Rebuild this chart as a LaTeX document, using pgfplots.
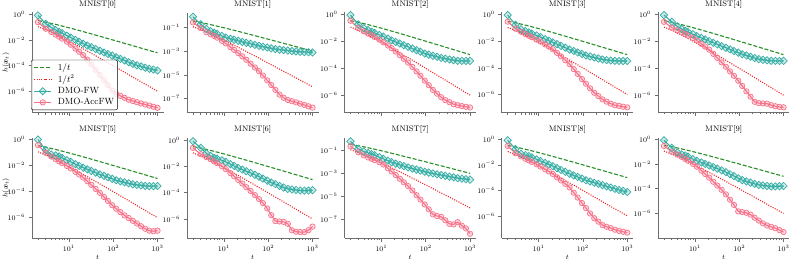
\documentclass[border=0pt]{standalone}
\usepackage{fontspec}
\usepackage{amsmath}
\usepackage{pgfplots}
\usepackage{pgfplotstable}
\pgfplotsset{compat=1.18}
\definecolor{cteal}{HTML}{36ADA4}
\definecolor{cpink}{HTML}{F77189}
\definecolor{cgreen}{HTML}{2A8F2A}
\definecolor{cred}{HTML}{F02020}
\definecolor{cspine}{HTML}{6E6E6E}

\pgfplotstableread{
t inv inv2
2 0.3333 0.1111
3 0.25 0.0625
5 0.1667 0.02778
10 0.0909 0.008264
20 0.0476 0.002268
50 0.0196 0.000384
100 0.0099 9.80e-5
200 0.004975 2.475e-5
500 0.001996 3.984e-6
1000 0.000999 9.98e-7
}\tR

\pgfplotstableread{
t fw acc
2 8.32e-1 2.51e-1
3 1.86e-1 7.59e-2
4 9.55e-2 4.27e-2
5 6.03e-2 2.69e-2
6 4.37e-2 1.82e-2
7 3.39e-2 1.29e-2
9 2.19e-2 7.41e-3
11 1.55e-2 4.27e-3
14 1.02e-2 2.14e-3
17 7.41e-3 1.23e-3
21 5.13e-3 6.61e-4
26 3.72e-3 2.95e-4
32 2.75e-3 1.23e-4
40 2.00e-3 4.79e-5
50 1.45e-3 1.86e-5
62 1.07e-3 7.41e-6
76 8.13e-4 3.02e-6
95 6.03e-4 1.15e-6
117 4.57e-4 6.31e-7
145 3.39e-4 4.37e-7
180 2.51e-4 3.09e-7
223 1.86e-4 2.19e-7
277 1.38e-4 1.74e-7
343 1.07e-4 1.41e-7
425 8.71e-5 1.12e-7
527 6.92e-5 9.33e-8
653 5.62e-5 7.59e-8
809 4.90e-5 6.17e-8
1000 4.17e-5 5.13e-8
}\tA

\pgfplotstableread{
t fw acc
2 7.59e-1 2.57e-1
3 1.78e-1 8.51e-2
4 7.24e-2 3.89e-2
5 4.79e-2 2.57e-2
6 3.55e-2 1.86e-2
7 2.75e-2 1.35e-2
9 1.86e-2 7.24e-3
11 1.35e-2 4.37e-3
14 1.07e-2 2.19e-3
17 8.91e-3 1.26e-3
21 7.24e-3 6.76e-4
26 5.89e-3 3.63e-4
32 4.90e-3 1.86e-4
40 4.07e-3 8.71e-5
50 3.31e-3 4.17e-5
62 2.75e-3 2.04e-5
76 2.34e-3 8.71e-6
95 2.00e-3 3.47e-6
117 1.70e-3 1.41e-6
145 1.45e-3 5.50e-7
180 1.32e-3 2.19e-7
223 1.20e-3 1.20e-7
277 1.10e-3 7.76e-8
343 1.00e-3 6.17e-8
425 9.33e-4 4.90e-8
527 8.71e-4 3.80e-8
653 8.32e-4 2.95e-8
809 7.94e-4 2.29e-8
1000 7.59e-4 1.78e-8
}\tB

\pgfplotstableread{
t fw acc
2 8.51e-1 3.24e-1
3 1.74e-1 9.33e-2
4 9.12e-2 5.25e-2
5 6.61e-2 3.63e-2
6 5.01e-2 2.75e-2
7 4.07e-2 2.04e-2
9 2.88e-2 1.29e-2
11 2.19e-2 8.32e-3
14 1.55e-2 4.79e-3
17 1.15e-2 3.02e-3
21 8.71e-3 1.70e-3
26 6.61e-3 9.12e-4
32 5.01e-3 4.90e-4
40 3.80e-3 2.57e-4
50 2.82e-3 1.23e-4
62 2.14e-3 5.75e-5
76 1.66e-3 2.75e-5
95 1.23e-3 1.20e-5
117 1.00e-3 5.50e-6
145 8.32e-4 2.45e-6
180 6.92e-4 1.29e-6
223 5.75e-4 7.08e-7
277 5.01e-4 4.27e-7
343 4.37e-4 3.02e-7
425 3.89e-4 2.14e-7
527 3.47e-4 1.82e-7
653 3.47e-4 1.55e-7
809 3.39e-4 1.38e-7
1000 3.47e-4 1.23e-7
}\tC

\pgfplotstableread{
t fw acc
2 9.55e-1 3.02e-1
3 1.74e-1 9.12e-2
4 7.94e-2 5.25e-2
5 5.89e-2 3.55e-2
6 4.68e-2 2.63e-2
7 3.80e-2 2.04e-2
9 2.75e-2 1.35e-2
11 2.09e-2 9.55e-3
14 1.48e-2 5.89e-3
17 1.12e-2 3.98e-3
21 8.32e-3 2.51e-3
26 6.17e-3 1.35e-3
32 4.57e-3 7.41e-4
40 3.31e-3 3.80e-4
50 2.40e-3 1.91e-4
62 1.86e-3 8.13e-5
76 1.45e-3 3.55e-5
95 1.12e-3 1.45e-5
117 8.71e-4 6.46e-6
145 7.24e-4 2.88e-6
180 6.03e-4 1.35e-6
223 5.13e-4 7.59e-7
277 4.27e-4 4.27e-7
343 3.89e-4 2.88e-7
425 3.63e-4 2.04e-7
527 3.39e-4 1.55e-7
653 3.31e-4 1.38e-7
809 3.31e-4 1.20e-7
1000 3.31e-4 1.07e-7
}\tD

\pgfplotstableread{
t fw acc
2 8.51e-1 2.69e-1
3 2.69e-1 1.02e-1
4 1.23e-1 6.46e-2
5 7.94e-2 4.47e-2
6 5.89e-2 3.31e-2
7 4.68e-2 2.57e-2
9 3.24e-2 1.70e-2
11 2.40e-2 1.12e-2
14 1.74e-2 6.31e-3
17 1.35e-2 3.98e-3
21 1.00e-2 2.34e-3
26 7.59e-3 1.15e-3
32 5.75e-3 5.75e-4
40 4.27e-3 2.69e-4
50 3.24e-3 1.26e-4
62 2.45e-3 5.75e-5
76 1.86e-3 2.69e-5
95 1.41e-3 1.17e-5
117 1.07e-3 4.79e-6
145 8.71e-4 1.91e-6
180 7.00e-4 7.76e-7
223 5.62e-4 3.24e-7
277 4.57e-4 2.57e-7
343 4.17e-4 2.45e-7
425 3.80e-4 2.34e-7
527 3.47e-4 1.82e-7
653 3.47e-4 1.51e-7
809 3.39e-4 1.35e-7
1000 3.47e-4 1.26e-7
}\tE

\pgfplotstableread{
t fw acc
2 9.55e-1 3.63e-1
3 1.48e-1 9.33e-2
4 6.76e-2 4.79e-2
5 5.75e-2 2.95e-2
6 4.90e-2 2.04e-2
7 3.80e-2 1.51e-2
9 2.51e-2 9.12e-3
11 1.86e-2 5.89e-3
14 1.26e-2 3.24e-3
17 9.33e-3 2.00e-3
21 6.76e-3 1.17e-3
26 5.01e-3 6.17e-4
32 3.80e-3 3.24e-4
40 2.82e-3 1.58e-4
50 2.04e-3 7.94e-5
62 1.58e-3 3.80e-5
76 1.23e-3 1.91e-5
95 9.33e-4 8.91e-6
117 7.24e-4 4.79e-6
145 6.03e-4 2.63e-6
180 5.13e-4 1.48e-6
223 4.27e-4 9.33e-7
277 3.55e-4 5.75e-7
343 3.24e-4 3.55e-7
425 2.95e-4 2.19e-7
527 2.69e-4 1.41e-7
653 2.57e-4 1.00e-7
809 2.57e-4 9.12e-8
1000 2.63e-4 1.00e-7
}\tF

\pgfplotstableread{
t fw acc
2 8.32e-1 2.63e-1
3 2.63e-1 8.51e-2
4 1.02e-1 5.13e-2
5 6.31e-2 3.55e-2
6 4.68e-2 2.45e-2
7 3.98e-2 1.78e-2
9 2.95e-2 1.05e-2
11 2.24e-2 6.31e-3
14 1.51e-2 3.16e-3
17 1.10e-2 1.78e-3
21 7.76e-3 9.55e-4
26 5.75e-3 5.01e-4
32 4.37e-3 2.63e-4
40 3.24e-3 1.35e-4
50 2.34e-3 6.61e-5
62 1.66e-3 3.24e-5
76 1.20e-3 1.62e-5
95 8.32e-4 6.31e-6
117 6.03e-4 1.95e-6
145 4.47e-4 6.92e-7
180 3.31e-4 6.46e-7
223 2.51e-4 6.03e-7
277 1.95e-4 4.27e-7
343 1.78e-4 1.38e-7
425 1.62e-4 1.07e-7
527 1.48e-4 1.00e-7
653 1.45e-4 1.00e-7
809 1.48e-4 1.38e-7
1000 1.58e-4 2.63e-7
}\tG

\pgfplotstableread{
t fw acc
2 6.03e-1 2.24e-1
3 1.35e-1 6.76e-2
4 7.76e-2 3.63e-2
5 5.89e-2 2.40e-2
6 4.68e-2 1.82e-2
7 3.80e-2 1.41e-2
9 2.51e-2 9.33e-3
11 1.82e-2 5.89e-3
14 1.26e-2 2.69e-3
17 9.12e-3 1.45e-3
21 6.92e-3 7.08e-4
26 5.37e-3 3.39e-4
32 4.27e-3 1.66e-4
40 3.31e-3 7.76e-5
50 2.57e-3 3.24e-5
62 2.09e-3 1.26e-5
76 1.74e-3 5.25e-6
95 1.38e-3 1.95e-6
117 1.15e-3 7.41e-7
145 9.77e-4 2.75e-7
180 8.32e-4 1.95e-7
223 7.08e-4 1.66e-7
277 6.03e-4 8.32e-8
343 5.13e-4 4.07e-8
425 4.47e-4 3.63e-8
527 3.80e-4 5.75e-8
653 3.47e-4 2.88e-8
809 3.09e-4 1.62e-8
1000 2.82e-4 5.62e-9
}\tH

\pgfplotstableread{
t fw acc
2 8.32e-1 3.02e-1
3 1.74e-1 8.13e-2
4 7.24e-2 4.57e-2
5 5.75e-2 3.02e-2
6 4.79e-2 2.24e-2
7 3.80e-2 1.70e-2
9 2.69e-2 1.10e-2
11 2.00e-2 7.41e-3
14 1.41e-2 4.47e-3
17 1.07e-2 3.02e-3
21 7.76e-3 1.91e-3
26 5.50e-3 1.05e-3
32 3.98e-3 6.03e-4
40 2.82e-3 3.24e-4
50 2.00e-3 1.70e-4
62 1.48e-3 6.61e-5
76 1.12e-3 2.75e-5
95 8.32e-4 1.02e-5
117 6.17e-4 4.07e-6
145 5.01e-4 1.55e-6
180 3.98e-4 6.61e-7
223 3.24e-4 3.55e-7
277 2.57e-4 1.91e-7
343 2.04e-4 1.41e-7
425 1.66e-4 1.10e-7
527 1.32e-4 8.32e-8
653 1.07e-4 6.76e-8
809 8.91e-5 5.75e-8
1000 7.41e-5 4.90e-8
}\tI

\pgfplotstableread{
t fw acc
2 8.32e-1 2.88e-1
3 2.00e-1 9.77e-2
4 8.51e-2 5.75e-2
5 6.03e-2 3.80e-2
6 4.90e-2 2.57e-2
7 3.98e-2 1.82e-2
9 2.45e-2 1.02e-2
11 1.82e-2 6.03e-3
14 1.32e-2 2.82e-3
17 1.00e-2 1.55e-3
21 7.59e-3 7.76e-4
26 5.62e-3 3.63e-4
32 4.17e-3 1.78e-4
40 3.02e-3 8.13e-5
50 2.19e-3 3.47e-5
62 1.48e-3 1.29e-5
76 1.05e-3 4.90e-6
95 6.92e-4 1.45e-6
117 4.90e-4 1.29e-6
145 3.89e-4 1.12e-6
180 3.09e-4 7.94e-7
223 2.45e-4 4.47e-7
277 2.00e-4 2.63e-7
343 1.82e-4 1.55e-7
425 1.66e-4 1.05e-7
527 1.51e-4 8.13e-8
653 1.51e-4 6.31e-8
809 1.58e-4 4.47e-8
1000 1.66e-4 3.09e-8
}\tJ

\pgfplotsset{
  every axis/.append style={
    xmode=log, ymode=log, scale only axis, width=131.5pt, height=100pt,
    anchor=south west,
    xmin=1.466, xmax=1365,
    axis x line*=bottom, axis y line*=left,
    axis line style={draw=cspine, line width=0.6pt},
    tick align=outside,
    major tick length=3.5pt, minor tick length=2pt,
    tick style={draw=cspine, line width=0.6pt},
    xtick={10,100,1000},
    minor xtick={2,3,4,5,6,7,8,9,20,30,40,50,60,70,80,90,200,300,400,500,600,700,800,900},
    yminorticks=false,
    ticklabel style={font=\fontsize{7.2}{8}\selectfont},
    title style={font=\fontsize{8}{9}\selectfont, yshift=-5.5pt},
    label style={font=\fontsize{7.2}{8}\selectfont},
    ylabel style={at={(axis description cs:-0.198,0.5)}, anchor=center},
    xlabel style={inner sep=0.5pt, yshift=0pt},
  },
}

\begin{document}
\begin{tikzpicture}
\useasboundingbox (0pt,0pt) rectangle (789pt,260pt);

% ---------- row 1 ----------
\begin{axis}[ytick={1,1e-2,1e-4,1e-6}, xticklabels={}, at={(32pt,147.5pt)},
  ymin=2.2e-8, ymax=1.41, title={MNIST[0]}, ylabel={$h(\boldsymbol{x}_t)$},
  legend cell align=left,
  legend style={at={(0,0.025)}, anchor=south west, xshift=-1pt,
    font=\fontsize{9}{10}\selectfont, rounded corners=2pt,
    fill=white, fill opacity=0.8, text opacity=1, inner sep=2.5pt,
    nodes={inner sep=1pt}, row sep=1.2pt, column sep=5pt}]
\addplot[color=cgreen, line width=1.1pt, dash pattern=on 4pt off 1.8pt, mark=none, forget plot] table[x=t,y=inv]{\tR};
\addplot[color=cred, line width=1.1pt, dash pattern=on 1pt off 1.4pt, mark=none, forget plot] table[x=t,y=inv2]{\tR};
\addplot[color=cteal, line width=1.1pt, mark=square*, mark size=2.6pt, mark options={rotate=45, solid, fill=cteal, fill opacity=0.25, line width=0.7pt}, forget plot] table[x=t,y=fw]{\tA};
\addplot[color=cpink, line width=1.1pt, mark=*, mark size=2.7pt, mark options={solid, fill=cpink, fill opacity=0.25, line width=0.7pt}, forget plot] table[x=t,y=acc]{\tA};
\addlegendimage{draw=cgreen, line width=1.1pt, dash pattern=on 4pt off 1.8pt, mark=none}
\addlegendentry{$1/t$}
\addlegendimage{draw=cred, line width=1.1pt, dash pattern=on 1pt off 1.4pt, mark=none}
\addlegendentry{$1/t^2$}
\addlegendimage{draw=cteal, line width=1.1pt, mark=square*, mark size=2.6pt, mark options={rotate=45, solid, draw=cteal, fill=cteal, fill opacity=0.25, line width=0.7pt}}
\addlegendentry{DMO-FW}
\addlegendimage{draw=cpink, line width=1.1pt, mark=*, mark size=2.7pt, mark options={solid, draw=cpink, fill=cpink, fill opacity=0.25, line width=0.7pt}}
\addlegendentry{DMO-AccFW}
\end{axis}

\begin{axis}[ytick={1e-1,1e-3,1e-5,1e-7}, xticklabels={}, at={(187pt,147.5pt)},
  ymin=6.9e-9, ymax=1.74, title={MNIST[1]}]
\addplot[color=cgreen, line width=1.1pt, dash pattern=on 4pt off 1.8pt, mark=none] table[x=t,y=inv]{\tR};
\addplot[color=cred, line width=1.1pt, dash pattern=on 1pt off 1.4pt, mark=none] table[x=t,y=inv2]{\tR};
\addplot[color=cteal, line width=1.1pt, mark=square*, mark size=2.6pt, mark options={rotate=45, solid, fill=cteal, fill opacity=0.25, line width=0.7pt}] table[x=t,y=fw]{\tB};
\addplot[color=cpink, line width=1.1pt, mark=*, mark size=2.7pt, mark options={solid, fill=cpink, fill opacity=0.25, line width=0.7pt}] table[x=t,y=acc]{\tB};
\end{axis}

\begin{axis}[ytick={1,1e-2,1e-4,1e-6}, xticklabels={}, at={(344.5pt,147.5pt)},
  ymin=5.2e-8, ymax=1.32, title={MNIST[2]}]
\addplot[color=cgreen, line width=1.1pt, dash pattern=on 4pt off 1.8pt, mark=none] table[x=t,y=inv]{\tR};
\addplot[color=cred, line width=1.1pt, dash pattern=on 1pt off 1.4pt, mark=none] table[x=t,y=inv2]{\tR};
\addplot[color=cteal, line width=1.1pt, mark=square*, mark size=2.6pt, mark options={rotate=45, solid, fill=cteal, fill opacity=0.25, line width=0.7pt}] table[x=t,y=fw]{\tC};
\addplot[color=cpink, line width=1.1pt, mark=*, mark size=2.7pt, mark options={solid, fill=cpink, fill opacity=0.25, line width=0.7pt}] table[x=t,y=acc]{\tC};
\end{axis}

\begin{axis}[ytick={1,1e-2,1e-4,1e-6}, xticklabels={}, at={(501.7pt,147.5pt)},
  ymin=4.4e-8, ymax=1.48, title={MNIST[3]}]
\addplot[color=cgreen, line width=1.1pt, dash pattern=on 4pt off 1.8pt, mark=none] table[x=t,y=inv]{\tR};
\addplot[color=cred, line width=1.1pt, dash pattern=on 1pt off 1.4pt, mark=none] table[x=t,y=inv2]{\tR};
\addplot[color=cteal, line width=1.1pt, mark=square*, mark size=2.6pt, mark options={rotate=45, solid, fill=cteal, fill opacity=0.25, line width=0.7pt}] table[x=t,y=fw]{\tD};
\addplot[color=cpink, line width=1.1pt, mark=*, mark size=2.7pt, mark options={solid, fill=cpink, fill opacity=0.25, line width=0.7pt}] table[x=t,y=acc]{\tD};
\end{axis}

\begin{axis}[ytick={1,1e-2,1e-4,1e-6}, xticklabels={}, at={(658pt,147.5pt)},
  ymin=5.2e-8, ymax=1.32, title={MNIST[4]}]
\addplot[color=cgreen, line width=1.1pt, dash pattern=on 4pt off 1.8pt, mark=none] table[x=t,y=inv]{\tR};
\addplot[color=cred, line width=1.1pt, dash pattern=on 1pt off 1.4pt, mark=none] table[x=t,y=inv2]{\tR};
\addplot[color=cteal, line width=1.1pt, mark=square*, mark size=2.6pt, mark options={rotate=45, solid, fill=cteal, fill opacity=0.25, line width=0.7pt}] table[x=t,y=fw]{\tE};
\addplot[color=cpink, line width=1.1pt, mark=*, mark size=2.7pt, mark options={solid, fill=cpink, fill opacity=0.25, line width=0.7pt}] table[x=t,y=acc]{\tE};
\end{axis}

% ---------- row 2 ----------
\begin{axis}[ytick={1,1e-2,1e-4,1e-6}, at={(32pt,22pt)},
  ymin=2.75e-8, ymax=1.26, title={MNIST[5]}, ylabel={$h(\boldsymbol{x}_t)$}, xlabel={$t$}]
\addplot[color=cgreen, line width=1.1pt, dash pattern=on 4pt off 1.8pt, mark=none] table[x=t,y=inv]{\tR};
\addplot[color=cred, line width=1.1pt, dash pattern=on 1pt off 1.4pt, mark=none] table[x=t,y=inv2]{\tR};
\addplot[color=cteal, line width=1.1pt, mark=square*, mark size=2.6pt, mark options={rotate=45, solid, fill=cteal, fill opacity=0.25, line width=0.7pt}] table[x=t,y=fw]{\tF};
\addplot[color=cpink, line width=1.1pt, mark=*, mark size=2.7pt, mark options={solid, fill=cpink, fill opacity=0.25, line width=0.7pt}] table[x=t,y=acc]{\tF};
\end{axis}

\begin{axis}[ytick={1,1e-2,1e-4,1e-6}, at={(187pt,22pt)},
  ymin=3.55e-8, ymax=1.48, title={MNIST[6]}, xlabel={$t$}]
\addplot[color=cgreen, line width=1.1pt, dash pattern=on 4pt off 1.8pt, mark=none] table[x=t,y=inv]{\tR};
\addplot[color=cred, line width=1.1pt, dash pattern=on 1pt off 1.4pt, mark=none] table[x=t,y=inv2]{\tR};
\addplot[color=cteal, line width=1.1pt, mark=square*, mark size=2.6pt, mark options={rotate=45, solid, fill=cteal, fill opacity=0.25, line width=0.7pt}] table[x=t,y=fw]{\tG};
\addplot[color=cpink, line width=1.1pt, mark=*, mark size=2.7pt, mark options={solid, fill=cpink, fill opacity=0.25, line width=0.7pt}] table[x=t,y=acc]{\tG};
\end{axis}

\begin{axis}[ytick={1e-1,1e-3,1e-5,1e-7}, at={(344.5pt,22pt)},
  ymin=2.4e-9, ymax=1.17, title={MNIST[7]}, xlabel={$t$}]
\addplot[color=cgreen, line width=1.1pt, dash pattern=on 4pt off 1.8pt, mark=none] table[x=t,y=inv]{\tR};
\addplot[color=cred, line width=1.1pt, dash pattern=on 1pt off 1.4pt, mark=none] table[x=t,y=inv2]{\tR};
\addplot[color=cteal, line width=1.1pt, mark=square*, mark size=2.6pt, mark options={rotate=45, solid, fill=cteal, fill opacity=0.25, line width=0.7pt}] table[x=t,y=fw]{\tH};
\addplot[color=cpink, line width=1.1pt, mark=*, mark size=2.7pt, mark options={solid, fill=cpink, fill opacity=0.25, line width=0.7pt}] table[x=t,y=acc]{\tH};
\end{axis}

\begin{axis}[ytick={1,1e-2,1e-4,1e-6}, at={(501.7pt,22pt)},
  ymin=1.86e-8, ymax=1.26, title={MNIST[8]}, xlabel={$t$}]
\addplot[color=cgreen, line width=1.1pt, dash pattern=on 4pt off 1.8pt, mark=none] table[x=t,y=inv]{\tR};
\addplot[color=cred, line width=1.1pt, dash pattern=on 1pt off 1.4pt, mark=none] table[x=t,y=inv2]{\tR};
\addplot[color=cteal, line width=1.1pt, mark=square*, mark size=2.6pt, mark options={rotate=45, solid, fill=cteal, fill opacity=0.25, line width=0.7pt}] table[x=t,y=fw]{\tI};
\addplot[color=cpink, line width=1.1pt, mark=*, mark size=2.7pt, mark options={solid, fill=cpink, fill opacity=0.25, line width=0.7pt}] table[x=t,y=acc]{\tI};
\end{axis}

\begin{axis}[ytick={1,1e-2,1e-4,1e-6}, at={(658pt,22pt)},
  ymin=1.02e-8, ymax=1.26, title={MNIST[9]}, xlabel={$t$}]
\addplot[color=cgreen, line width=1.1pt, dash pattern=on 4pt off 1.8pt, mark=none] table[x=t,y=inv]{\tR};
\addplot[color=cred, line width=1.1pt, dash pattern=on 1pt off 1.4pt, mark=none] table[x=t,y=inv2]{\tR};
\addplot[color=cteal, line width=1.1pt, mark=square*, mark size=2.6pt, mark options={rotate=45, solid, fill=cteal, fill opacity=0.25, line width=0.7pt}] table[x=t,y=fw]{\tJ};
\addplot[color=cpink, line width=1.1pt, mark=*, mark size=2.7pt, mark options={solid, fill=cpink, fill opacity=0.25, line width=0.7pt}] table[x=t,y=acc]{\tJ};
\end{axis}
\end{tikzpicture}
\end{document}
